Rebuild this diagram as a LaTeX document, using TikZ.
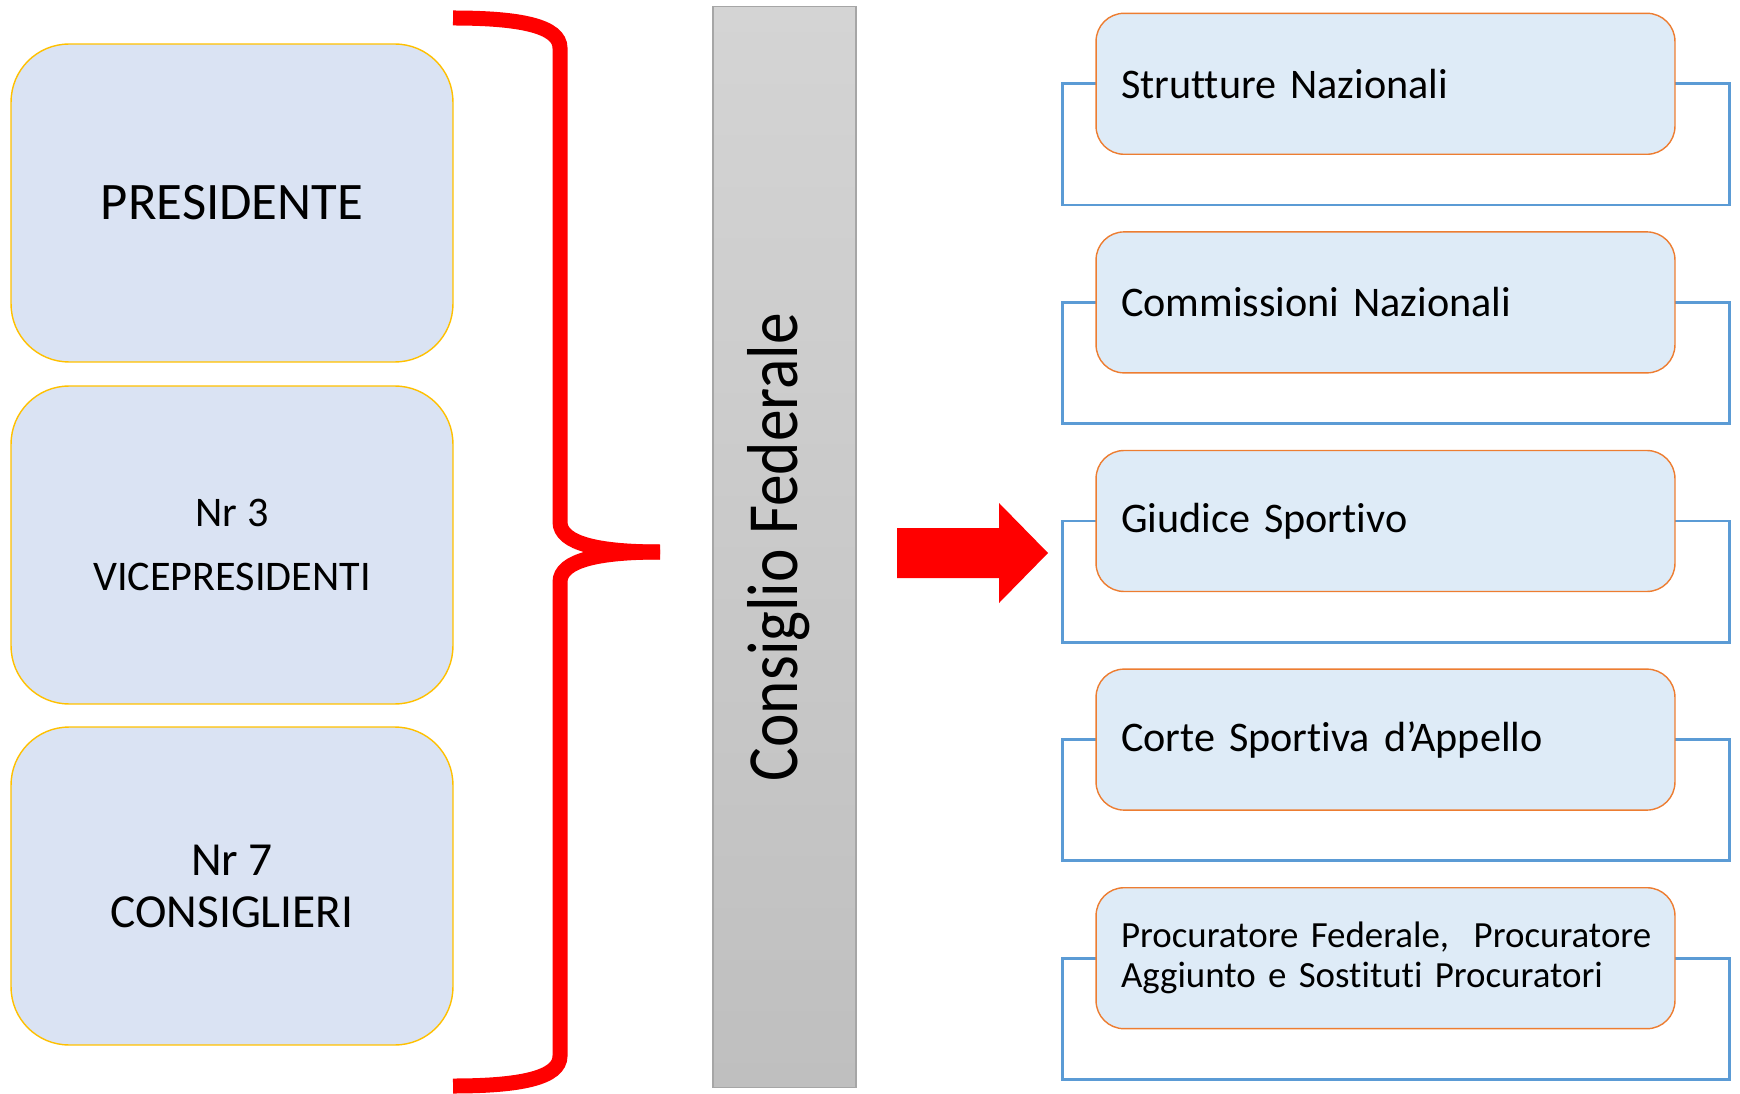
\documentclass[tikz,border=0pt]{standalone}
\usepackage{fontspec}
\setmainfont{Carlito}[Ligatures=CommonOff]
\usetikzlibrary{backgrounds}
\definecolor{boxblue}{HTML}{DAE3F3}
\definecolor{boxgold}{HTML}{FFC000}
\definecolor{itemfill}{HTML}{DEEBF7}
\definecolor{itemorange}{HTML}{ED7D31}
\definecolor{linkblue}{HTML}{5B9BD5}
\definecolor{bartop}{HTML}{D4D4D4}
\definecolor{barbot}{HTML}{BFBFBF}
\definecolor{barline}{HTML}{A6A6A6}

\begin{document}
\begin{tikzpicture}[x=0.02cm, y=-0.02cm,
member/.style={draw=boxgold, fill=boxblue, line width=0.8pt, rounded corners=1.16cm,
    minimum width=8.84cm, minimum height=6.36cm, align=center},
organ/.style={draw=itemorange, fill=itemfill, line width=0.8pt, rounded corners=0.56cm,
    minimum width=11.58cm, minimum height=2.82cm, text width=10.58cm,
    inner xsep=0.5cm, inner ysep=0pt, align=left},
link/.style={draw=linkblue, line width=1.6pt},
brace/.style={draw=red, line width=0.3cm}]
\useasboundingbox (0,0) rectangle (1740,1094);

% composizione del consiglio
\node[member, font=\fontsize{30}{36}\selectfont] (pres) at (232,203) {PRESIDENTE};
\node[member, font=\fontsize{24}{36.4}\selectfont] (vice) at (232,545) {Nr 3\\VICEPRESIDENTI};
\node[member, font=\fontsize{27}{29.6}\selectfont] (cons) at (232,886) {Nr 7\\CONSIGLIERI};

% graffa
\coordinate (tip) at (660,552);
\draw[brace] (453,18) .. controls (520,18) and (560,26) .. (560,48) -- (560,522)
  .. controls (560,544) and (600,552) .. (tip);
\draw[brace] (tip) .. controls (600,552) and (560,560) .. (560,582) -- (560,1056)
  .. controls (560,1078) and (520,1086) .. (453,1086);

% barra centrale
\node[draw=barline, line width=0.6pt, top color=bartop, bottom color=barbot,
  minimum width=2.86cm, minimum height=21.64cm, inner sep=0pt] (bar) at (784.5,547) {};
\node[rotate=90, anchor=base, font=\fontsize{41}{48}\selectfont] (cflabel)
  at ([xshift=0.25cm]bar.center) {\scalebox{0.88}[1]{Consiglio Federale}};

% freccia
\fill[red] (897,528) -- (999,528) -- (999,503) -- (1048,553) -- (999,603)
  -- (999,578) -- (897,578) -- cycle;

% organi
\foreach \lbl [count=\i from 0] in {Strutture Nazionali, Commissioni Nazionali,
    Giudice Sportivo, Corte Sportiva d’Appello}
  \node[organ, font=\fontsize{24}{29}\selectfont] (org\i) at (1385.5,83.8+218.6*\i) {\lbl};
\node[organ, font=\fontsize{21}{22.8}\selectfont] (org4) at (1385.5,83.8+218.6*4)
  {\mbox{Procuratore Federale,\ \ Procuratore}\\\mbox{Aggiunto e Sostituti Procuratori}};

\begin{scope}[on background layer]
\foreach \i in {0,...,4}
  \draw[link] ([xshift=-0.66cm]org\i.west) rectangle ([xshift=1.08cm,yshift=-1cm]org\i.south east);
\end{scope}
\end{tikzpicture}
\end{document}
